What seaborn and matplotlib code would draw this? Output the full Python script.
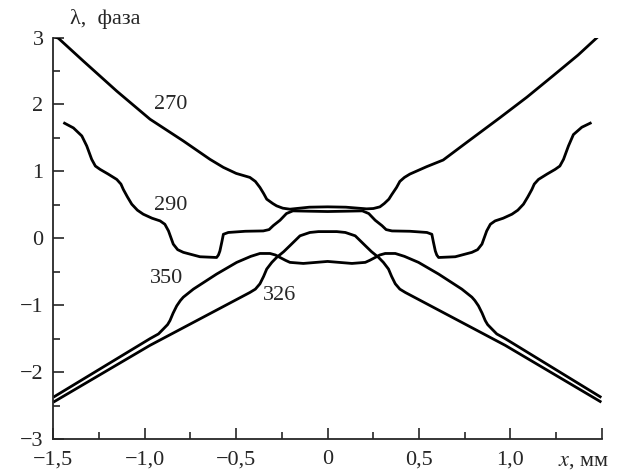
import pandas as pd
import seaborn as sns
import matplotlib
matplotlib.use("Agg")
import matplotlib.pyplot as plt
from matplotlib.ticker import MultipleLocator

# curves (x in mm, lambda in phase units)
x270 = [-1.5, -1.472, -1.336, -1.153, -0.971, -0.789, -0.643, -0.57, -0.50, -0.425, -0.395, -0.37,
        -0.35, -0.333, -0.30, -0.279, -0.245, -0.206, -0.1, 0.0, 0.1, 0.213, 0.25, 0.286, 0.31,
        0.335, 0.35, 0.377, 0.395, 0.42, 0.45, 0.541, 0.632, 0.759, 0.941, 1.09, 1.233, 1.37, 1.497]
y270 = [3.02, 2.99, 2.65, 2.20, 1.78, 1.455, 1.18, 1.06, 0.97, 0.91, 0.85, 0.76,
        0.67, 0.585, 0.52, 0.485, 0.45, 0.435, 0.465, 0.47, 0.465, 0.44, 0.445, 0.47, 0.52,
        0.585, 0.65, 0.76, 0.85, 0.91, 0.96, 1.07, 1.17, 1.43, 1.80, 2.11, 2.43, 2.74, 3.06]

x290 = [-1.445, -1.39, -1.344, -1.317, -1.29, -1.27, -1.244, -1.20, -1.153, -1.13, -1.117, -1.095,
        -1.071, -1.04, -1.008, -0.96, -0.916, -0.89, -0.87, -0.844, -0.82, -0.789, -0.698, -0.607,
        -0.597, -0.589, -0.578, -0.57, -0.543, -0.45, -0.352, -0.32, -0.297, -0.26, -0.225, -0.19,
        -0.1, 0.0, 0.1, 0.19, 0.225, 0.26, 0.297, 0.32, 0.352, 0.45, 0.543, 0.57, 0.578, 0.589,
        0.597, 0.607, 0.698, 0.789, 0.82, 0.844, 0.87, 0.89, 0.916, 0.96, 1.008, 1.04, 1.071,
        1.095, 1.117, 1.13, 1.153, 1.20, 1.244, 1.27, 1.29, 1.317, 1.344, 1.39, 1.443]
y290 = [1.73, 1.65, 1.53, 1.38, 1.18, 1.08, 1.03, 0.96, 0.88, 0.81, 0.73, 0.62,
        0.51, 0.42, 0.36, 0.30, 0.26, 0.21, 0.11, -0.087, -0.17, -0.21, -0.276, -0.287,
        -0.25, -0.19, -0.05, 0.06, 0.087, 0.105, 0.11, 0.13, 0.19, 0.27, 0.37, 0.41,
        0.405, 0.40, 0.405, 0.41, 0.37, 0.27, 0.19, 0.13, 0.11, 0.105, 0.087, 0.06, -0.05, -0.19,
        -0.25, -0.287, -0.276, -0.21, -0.17, -0.087, 0.11, 0.21, 0.26, 0.30, 0.36, 0.42, 0.51,
        0.62, 0.73, 0.81, 0.88, 0.96, 1.03, 1.08, 1.18, 1.38, 1.55, 1.66, 1.73]

x350 = [-1.5, -0.971, -0.925, -0.898, -0.875, -0.862, -0.845, -0.825, -0.805, -0.789, -0.734,
        -0.607, -0.497, -0.42, -0.37, -0.315, -0.285, -0.26, -0.23, -0.206, -0.133, 0.0, 0.133,
        0.206, 0.23, 0.26, 0.285, 0.315, 0.37, 0.42, 0.497, 0.607, 0.734, 0.789, 0.805, 0.825,
        0.845, 0.862, 0.875, 0.898, 0.925, 0.971, 1.497]
y350 = [-2.376, -1.50, -1.43, -1.355, -1.29, -1.23, -1.12, -1.01, -0.93, -0.88, -0.76,
        -0.535, -0.36, -0.27, -0.227, -0.227, -0.25, -0.287, -0.33, -0.36, -0.376, -0.346, -0.376,
        -0.36, -0.33, -0.287, -0.25, -0.227, -0.227, -0.27, -0.36, -0.535, -0.76, -0.88, -0.93, -1.01,
        -1.12, -1.23, -1.29, -1.355, -1.43, -1.50, -2.38]

x326 = [-1.5, -0.971, -0.425, -0.395, -0.37, -0.35, -0.333, -0.305, -0.279, -0.24, -0.206,
        -0.151, -0.097, -0.05, 0.0, 0.05, 0.097, 0.151, 0.206, 0.24, 0.279, 0.305, 0.333, 0.35,
        0.37, 0.395, 0.425, 0.971, 1.497]
y326 = [-2.45, -1.60, -0.81, -0.76, -0.68, -0.57, -0.46, -0.36, -0.287, -0.20, -0.11,
        0.037, 0.087, 0.10, 0.10, 0.10, 0.087, 0.037, -0.11, -0.20, -0.287, -0.36, -0.46, -0.57,
        -0.68, -0.76, -0.81, -1.60, -2.45]

labels = ["270", "290", "350", "326"]
label_pos = [(-0.86, 2.0), (-0.86, 0.49), (-0.88, -0.6), (-0.26, -0.86)]

curves = {"270": (x270, y270), "290": (x290, y290), "350": (x350, y350), "326": (x326, y326)}
df = pd.concat([pd.DataFrame({"x": xs, "y": ys, "curve": k}) for k, (xs, ys) in curves.items()])

sns.set_style("ticks")
plt.rcParams["font.family"] = ["Liberation Serif", "DejaVu Serif"]
plt.rcParams["mathtext.fontset"] = "stix"

fig = plt.figure(figsize=(6.27, 4.70), dpi=100)
ax = fig.add_axes([0.085, 0.066, 0.875, 0.854])

sns.lineplot(data=df, x="x", y="y", units="curve", estimator=None, sort=False,
             color="black", linewidth=2.0, ax=ax,
             solid_joinstyle="round", solid_capstyle="butt")

for lab, (tx, ty) in zip(labels, label_pos):
    ax.text(tx, ty, lab, fontsize=16, ha="center", va="center")

ax.set_xlim(-1.5, 1.5)
ax.set_ylim(-3, 3)
ax.xaxis.set_minor_locator(MultipleLocator(0.25))
ax.yaxis.set_minor_locator(MultipleLocator(0.5))
ax.set_xticks([-1.5, -1.0, -0.5, 0, 0.5, 1.0, 1.5])
ax.set_xticklabels(["\u22121,5", "\u22121,0", "\u22120,5", "0", "0,5", "1,0", ""])
ax.set_yticks([-3, -2, -1, 0, 1, 2, 3])
ax.set_yticklabels(["\u22123", "\u22122", "\u22121", "0", "1", "2", "3"])
ax.tick_params(which="major", direction="in", length=8, width=1.2, labelsize=16)
ax.tick_params(which="minor", direction="in", length=5, width=1.2)
ax.tick_params(axis="x", pad=8)
ax.tick_params(axis="y", pad=7)

sns.despine(ax=ax)
for s in ["left", "bottom"]:
    ax.spines[s].set_linewidth(1.3)

ax.set_xlabel("")
ax.set_ylabel("")
ax.text(-1.41, 3.28, "λ,  фаза", fontsize=16, ha="left", va="center", clip_on=False)
ax.text(1.40, -3.33, "$x$, мм", fontsize=16, ha="center", va="center", clip_on=False)

fig.savefig("out.png", dpi=100)
